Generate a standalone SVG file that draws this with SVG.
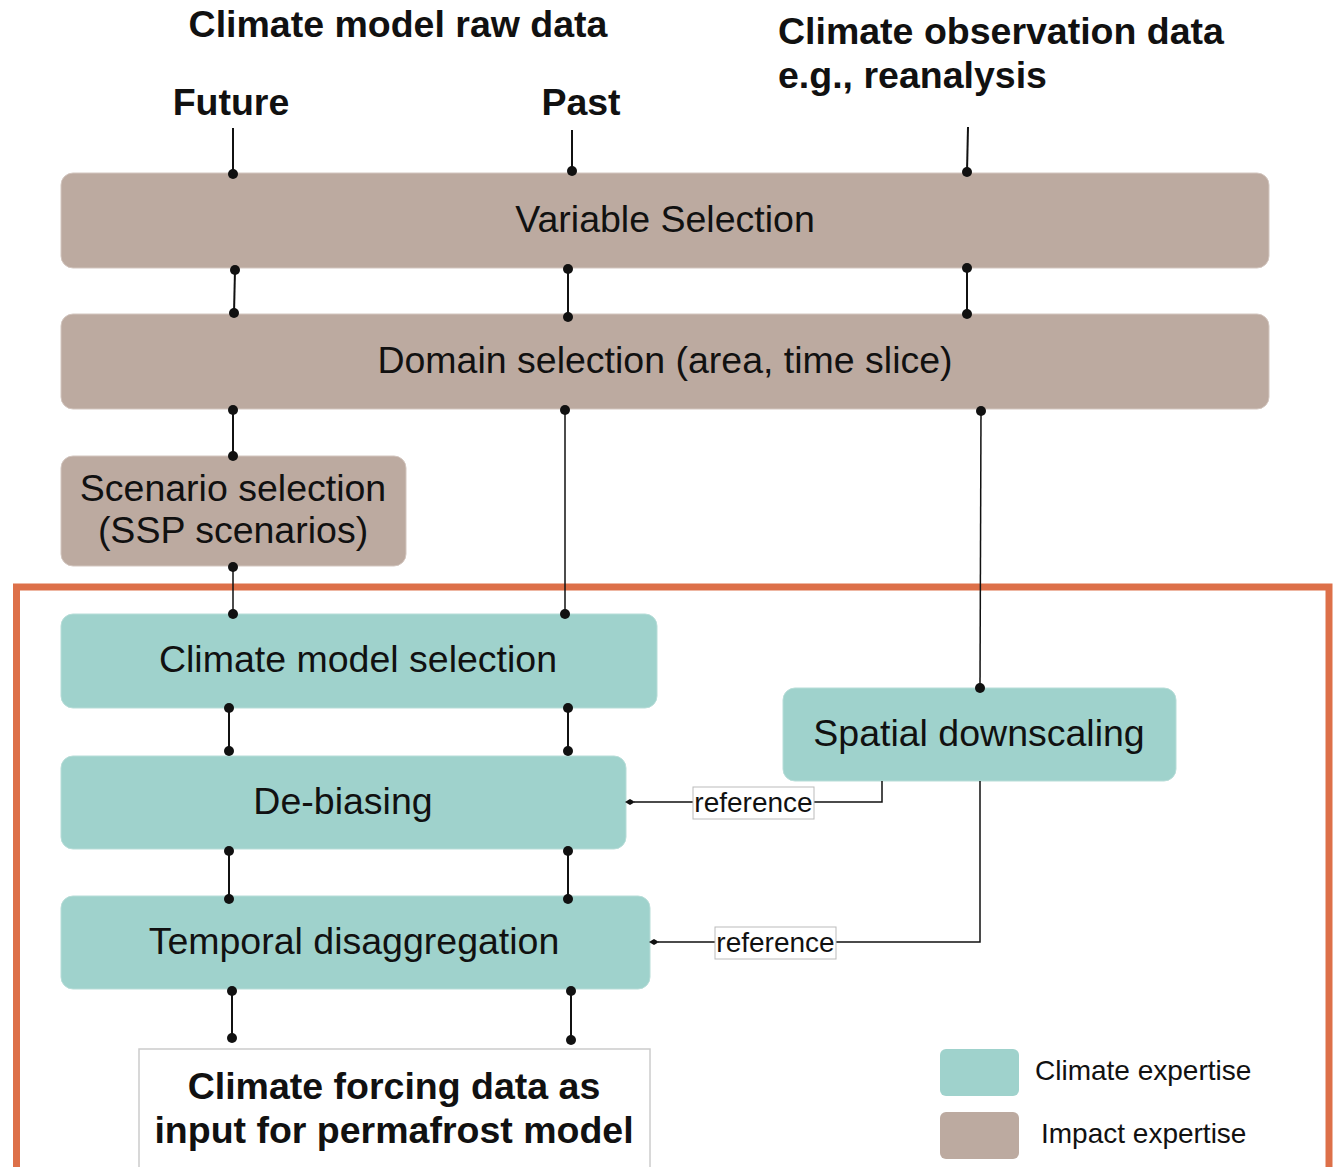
<svg xmlns="http://www.w3.org/2000/svg" width="1343" height="1167" viewBox="0 0 1343 1167">
<style>
.imp{fill:#bcaaa0;stroke:#d3c6bf;stroke-width:1}
.cli{fill:#9fd2cc;stroke:#b7ddd8;stroke-width:1}
.t{font-family:"Liberation Sans",Arial,sans-serif;font-size:37.5px;fill:#111;text-anchor:middle}
.b{font-weight:bold}
.s{font-family:"Liberation Sans",Arial,sans-serif;font-size:28px;fill:#111}
.c{fill:none;stroke:#111;stroke-width:2}
.r{fill:none;stroke:#111;stroke-width:1.5}
.lab{fill:#fff;stroke:#bbb;stroke-width:1}
</style>
<defs>
<marker id="dot" viewBox="0 0 12 12" refX="6" refY="6" markerWidth="12" markerHeight="12" markerUnits="userSpaceOnUse"><circle cx="6" cy="6" r="5" fill="#111"/></marker>
<marker id="dia" viewBox="0 0 10 6" refX="1" refY="3" markerWidth="10" markerHeight="6" markerUnits="userSpaceOnUse" orient="auto"><path d="M0,3 L5,0 L10,3 L5,6 Z" fill="#111"/></marker>
</defs>
<rect width="1343" height="1167" fill="#fff"/>
<g id="titles">
<text class="t b" x="398" y="37">Climate model raw data</text>
<text class="t b" x="231" y="115">Future</text>
<text class="t b" x="581" y="115">Past</text>
<text class="t b" x="778" y="44" style="text-anchor:start">Climate observation data</text>
<text class="t b" x="778" y="88" style="text-anchor:start">e.g., reanalysis</text>
</g>
<rect id="frame" x="16.5" y="587" width="1312.5" height="620" fill="none" stroke="#dd7049" stroke-width="7"/>
<g id="variable-selection"><rect class="imp" x="61" y="173" width="1208" height="95" rx="12"/><text class="t" x="665" y="232">Variable Selection</text></g>
<g id="domain-selection"><rect class="imp" x="61" y="314" width="1208" height="95" rx="12"/><text class="t" x="665" y="373">Domain selection (area, time slice)</text></g>
<g id="scenario-selection"><rect class="imp" x="61" y="456" width="345" height="110" rx="12"/><text class="t" x="233" y="501">Scenario selection</text><text class="t" x="233" y="543">(SSP scenarios)</text></g>
<g id="climate-model-selection"><rect class="cli" x="61" y="614" width="596" height="94" rx="12"/><text class="t" x="358" y="672">Climate model selection</text></g>
<g id="spatial-downscaling"><rect class="cli" x="783" y="688" width="393" height="93" rx="12"/><text class="t" x="979" y="746">Spatial downscaling</text></g>
<g id="de-biasing"><rect class="cli" x="61" y="756" width="565" height="93" rx="12"/><text class="t" x="343" y="814">De-biasing</text></g>
<g id="temporal-disaggregation"><rect class="cli" x="61" y="896" width="589" height="93" rx="12"/><text class="t" x="354" y="954">Temporal disaggregation</text></g>
<g id="output"><rect x="139" y="1049" width="511" height="140" fill="#fff" stroke="#ccc" stroke-width="1.5"/><text class="t b" x="394" y="1099">Climate forcing data as</text><text class="t b" x="394" y="1143">input for permafrost model</text></g>
<g id="legend">
<rect x="940" y="1049" width="79" height="47" rx="6" fill="#9fd2cc"/>
<rect x="940" y="1112" width="79" height="47" rx="6" fill="#bcaaa0"/>
<text class="s" x="1035" y="1080">Climate expertise</text>
<text class="s" x="1041" y="1143">Impact expertise</text>
</g>
<g id="connectors">
<path class="c" d="M233,128 L233,174" marker-end="url(#dot)"/>
<path class="c" d="M572,130 L572,171" marker-end="url(#dot)"/>
<path class="c" d="M968,127 L967,172" marker-end="url(#dot)"/>
<path class="c" d="M235,270 L234,313" marker-start="url(#dot)" marker-end="url(#dot)"/>
<path class="c" d="M568,269 L568,317" marker-start="url(#dot)" marker-end="url(#dot)"/>
<path class="c" d="M967,268 L967,314" marker-start="url(#dot)" marker-end="url(#dot)"/>
<path class="c" d="M233,410 L233,456" marker-start="url(#dot)" marker-end="url(#dot)"/>
<path class="r" d="M565,410 L565,614" marker-start="url(#dot)" marker-end="url(#dot)"/>
<path class="r" d="M981,411 L980,688" marker-start="url(#dot)" marker-end="url(#dot)"/>
<path class="r" d="M233,567 L233,614" marker-start="url(#dot)" marker-end="url(#dot)"/>
<path class="c" d="M229,708 L229,751" marker-start="url(#dot)" marker-end="url(#dot)"/>
<path class="c" d="M568,708 L568,751" marker-start="url(#dot)" marker-end="url(#dot)"/>
<path class="c" d="M229,851 L229,899" marker-start="url(#dot)" marker-end="url(#dot)"/>
<path class="c" d="M568,851 L568,899" marker-start="url(#dot)" marker-end="url(#dot)"/>
<path class="c" d="M232,991 L232,1038" marker-start="url(#dot)" marker-end="url(#dot)"/>
<path class="c" d="M571,991 L571,1040" marker-start="url(#dot)" marker-end="url(#dot)"/>
<path class="r" d="M882,781 L882,802 L634,802" marker-end="url(#dia)"/>
<path class="r" d="M980,781 L980,942 L658,942" marker-end="url(#dia)"/>
<rect class="lab" x="693" y="787" width="121" height="32"/>
<text class="s" x="753.5" y="812" text-anchor="middle">reference</text>
<rect class="lab" x="715" y="927" width="121" height="32"/>
<text class="s" x="775.5" y="952" text-anchor="middle">reference</text>
</g>
</svg>
